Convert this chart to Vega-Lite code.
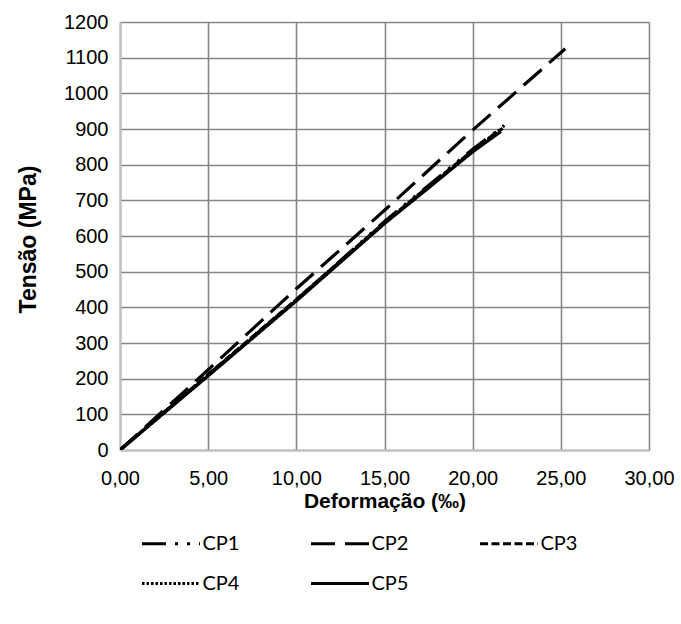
{
  "$schema": "https://vega.github.io/schema/vega-lite/v6.json",
  "autosize": "none",
  "width": 529,
  "height": 428,
  "padding": {"left": 120, "top": 22, "right": 32, "bottom": 174},
  "background": "white",
  "config": {
    "view": {"stroke": null},
    "axis": {
      "labelFont": "Liberation Sans",
      "labelFontSize": 20,
      "labelColor": "#000000",
      "labelFlush": false,
      "labelOverlap": false,
      "titleFont": "Liberation Sans",
      "titleFontSize": 21,
      "titleFontWeight": "bold",
      "titleColor": "#000000",
      "gridColor": "#868686",
      "gridWidth": 1.6,
      "gridOpacity": 1,
      "domainColor": "#c0c0c0",
      "domainWidth": 2,
      "ticks": false
    }
  },
  "data": {
    "values": [
      {"serie": "CP1", "def": 0, "tensao": 0},
      {"serie": "CP1", "def": 5, "tensao": 211},
      {"serie": "CP1", "def": 10, "tensao": 421},
      {"serie": "CP1", "def": 15, "tensao": 641},
      {"serie": "CP1", "def": 20, "tensao": 843},
      {"serie": "CP1", "def": 21.8, "tensao": 910},
      {"serie": "CP2", "def": 0, "tensao": 0},
      {"serie": "CP2", "def": 5, "tensao": 225},
      {"serie": "CP2", "def": 10, "tensao": 452},
      {"serie": "CP2", "def": 15, "tensao": 672},
      {"serie": "CP2", "def": 20, "tensao": 897},
      {"serie": "CP2", "def": 25.25, "tensao": 1125},
      {"serie": "CP3", "def": 0, "tensao": 0},
      {"serie": "CP3", "def": 5, "tensao": 212},
      {"serie": "CP3", "def": 10, "tensao": 422},
      {"serie": "CP3", "def": 15, "tensao": 638},
      {"serie": "CP3", "def": 20, "tensao": 840},
      {"serie": "CP3", "def": 21.7, "tensao": 902},
      {"serie": "CP4", "def": 0, "tensao": 0},
      {"serie": "CP4", "def": 5, "tensao": 209},
      {"serie": "CP4", "def": 10, "tensao": 419},
      {"serie": "CP4", "def": 15, "tensao": 636},
      {"serie": "CP4", "def": 20, "tensao": 838},
      {"serie": "CP4", "def": 21.5, "tensao": 897},
      {"serie": "CP5", "def": 0, "tensao": 0},
      {"serie": "CP5", "def": 5, "tensao": 208},
      {"serie": "CP5", "def": 10, "tensao": 418},
      {"serie": "CP5", "def": 15, "tensao": 635},
      {"serie": "CP5", "def": 17.5, "tensao": 735},
      {"serie": "CP5", "def": 20, "tensao": 836},
      {"serie": "CP5", "def": 21.6, "tensao": 893}
    ]
  },
  "mark": {"type": "line", "color": "#000000", "strokeWidth": 3.2, "strokeCap": "butt", "clip": true},
  "encoding": {
    "x": {
      "field": "def",
      "type": "quantitative",
      "scale": {"domain": [0, 30], "nice": false},
      "axis": {
        "title": "Deformação (‰)",
        "values": [0, 5, 10, 15, 20, 25, 30],
        "format": ".2f",
        "labelExpr": "replace(datum.label, '.', ',')",
        "labelPadding": 18,
        "titleX": 264.5,
        "titleY": 51,
        "titleBaseline": "middle",
        "titleAlign": "center"
      }
    },
    "y": {
      "field": "tensao",
      "type": "quantitative",
      "scale": {"domain": [0, 1200], "nice": false},
      "axis": {
        "title": "Tensão (MPa)",
        "values": [0, 100, 200, 300, 400, 500, 600, 700, 800, 900, 1000, 1100, 1200],
        "format": "d",
        "labelPadding": 12,
        "titleFontSize": 23,
        "titleX": -92,
        "titleY": 217,
        "titleAngle": -90,
        "titleBaseline": "middle",
        "titleAlign": "center"
      }
    },
    "strokeDash": {
      "field": "serie",
      "type": "nominal",
      "scale": {
        "domain": ["CP1", "CP2", "CP3", "CP4", "CP5"],
        "range": [[24, 9, 3, 9, 3, 9], [24, 10], [8, 3.5], [2.5, 2], [1, 0]]
      },
      "legend": {
        "title": null,
        "orient": "none",
        "legendX": 34.5,
        "legendY": 505,
        "direction": "horizontal",
        "columns": 3,
        "columnPadding": 65,
        "rowPadding": 13,
        "padding": 0,
        "symbolType": "M-2,0H2",
        "symbolSize": 841,
        "symbolStrokeWidth": 3.2,
        "symbolStrokeColor": "#000000",
        "symbolFillColor": "transparent",
        "labelOffset": 15,
        "labelFont": "Lato",
        "labelFontSize": 20,
        "labelColor": "#000000",
        "gridAlign": "all"
      }
    }
  }
}
